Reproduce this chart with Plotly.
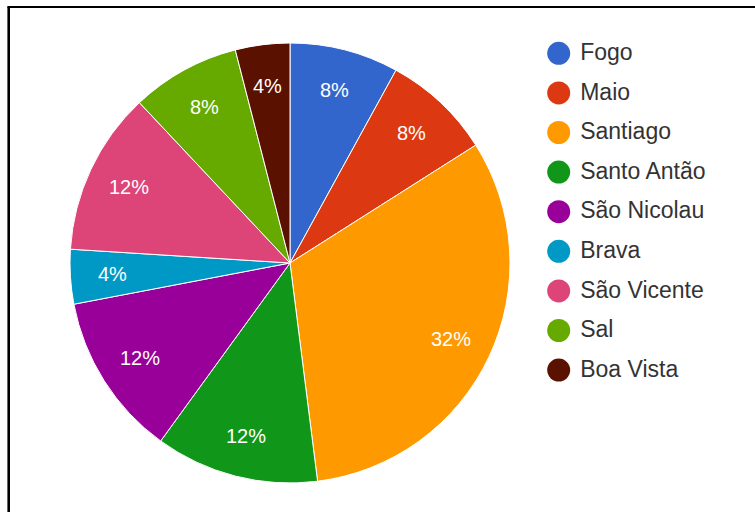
import math
import plotly.graph_objects as go

# ---- data ----
islands = ["Fogo", "Maio", "Santiago", "Santo Antão", "São Nicolau",
           "Brava", "São Vicente", "Sal", "Boa Vista"]
percentages = [8, 8, 32, 12, 12, 4, 12, 8, 4]
colors = ["#3366cc", "#dc3912", "#ff9900", "#109618", "#990099",
          "#0099c6", "#dd4477", "#66aa00", "#5b1100"]

W, H = 755, 512
FONT = "Liberation Sans, Arial, sans-serif"

# pie geometry (pixels)
cx, cy, R = 290, 263, 220
pie_x = [(cx - R) / W, (cx + R) / W]
pie_y = [(H - cy - R) / H, (H - cy + R) / H]

fig = go.Figure()

fig.add_trace(go.Pie(
    labels=islands,
    values=percentages,
    marker=dict(colors=colors, line=dict(color="white", width=1)),
    sort=False,
    direction="clockwise",
    rotation=0,
    textinfo="none",
    showlegend=False,
    hoverinfo="label+percent",
    domain=dict(x=pie_x, y=pie_y),
))

# slice labels: positions derived from the data (mid angle of each slice)
total = sum(percentages)
annotations = []
cum = 0
for v in percentages:
    ang = math.radians((cum + v / 2) / total * 360)
    cum += v
    rr = 0.81 * R
    annotations.append(dict(
        x=cx + rr * math.sin(ang), y=cy - rr * math.cos(ang),
        xref="x", yref="y", text=f"{v}%", showarrow=False,
        font=dict(color="white", size=20, family=FONT),
        xanchor="center", yanchor="middle",
    ))

# legend drawn as scatter on a pixel-space cartesian axis
leg_x0, leg_y0, leg_dy = 558.7, 53.3, 39.6
leg_y = [leg_y0 + i * leg_dy for i in range(len(islands))]
fig.add_trace(go.Scatter(
    x=[leg_x0] * len(islands), y=leg_y, mode="markers",
    marker=dict(color=colors, size=23, line=dict(width=0)),
    showlegend=False, hoverinfo="skip",
))
fig.add_trace(go.Scatter(
    x=[leg_x0 + 21.5] * len(islands), y=[v + 1 for v in leg_y], mode="text",
    text=islands, textposition="middle right",
    textfont=dict(color="#333333", size=23, family=FONT),
    showlegend=False, hoverinfo="skip",
))

fig.update_layout(
    width=W, height=H,
    margin=dict(l=0, r=0, t=0, b=0),
    paper_bgcolor="white",
    plot_bgcolor="rgba(0,0,0,0)",
    font=dict(family=FONT),
    xaxis=dict(visible=False, range=[0, W], domain=[0, 1], fixedrange=True),
    yaxis=dict(visible=False, range=[H, 0], domain=[0, 1], fixedrange=True),
    annotations=annotations,
    shapes=[
        dict(type="line", xref="paper", yref="paper",
             x0=8.7 / W, x1=8.7 / W, y0=0, y1=1 - 7 / H,
             line=dict(color="black", width=2.6)),
        dict(type="line", xref="paper", yref="paper",
             x0=7.4 / W, x1=1, y0=1 - 7 / H, y1=1 - 7 / H,
             line=dict(color="black", width=2.2)),
    ],
)

fig.write_html(
    "out.html",
    config={"displayModeBar": False},
    post_script="document.body.style.margin='0';document.body.style.overflow='hidden';",
)
